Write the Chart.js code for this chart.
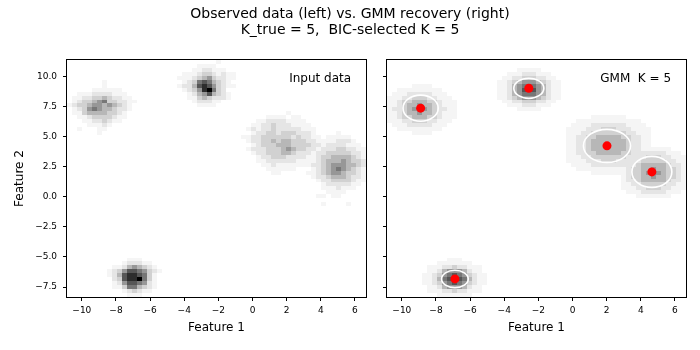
<!DOCTYPE html>
<html><head><meta charset="utf-8">
<script src="https://cdn.jsdelivr.net/npm/chart.js@4.4.1/dist/chart.umd.min.js"></script>
<style>
html,body{margin:0;padding:0;background:#fff;}
#wrap{position:relative;width:700px;height:350px;overflow:hidden;background:#fff;font-family:"DejaVu Sans",sans-serif;}
#title{position:absolute;left:0;top:6px;width:700px;text-align:center;font-size:14px;line-height:15.5px;color:#000;}
#c1{position:absolute;left:0;top:0;}
#c2{position:absolute;left:376px;top:0;}
</style></head><body>
<div id="wrap">
<canvas id="c1" width="376" height="350"></canvas>
<canvas id="c2" width="324" height="350"></canvas>
<div id="title">Observed data (left) vs. GMM recovery (right)<br>K_true = 5,&nbsp; BIC-selected K = 5</div>
</div>
<script>
// ---------- axes ----------
const X_MIN = -10.87, X_MAX = 6.65;
const Y_MIN = -8.33, Y_MAX = 11.35;
const N_BINS = 60;
const X_TICKS = [-10, -8, -6, -4, -2, 0, 2, 4, 6];
const Y_TICKS = [-7.5, -5, -2.5, 0, 2.5, 5, 7.5, 10];

// ---------- observed 2D histogram (grey level 0-9 per bin; rows top->bottom) ----------
const obsOrigins = [[0, 5], [21, 0], [35, 13], [48, 18], [8, 50]]; // [start bin column, start bin row]
const obsA = [
"000000010000000","000000010000000","000001111110000","001112222111000",
"011223343221100","012334563322110","123345545432100","012356544322100",
"011344443321000","001123333211000","000112232110000","000011121000000",
"001000110000000","000000100000000"];
const obsB = [
"000000000100000","000001111000000","000011221110000","001112332121100",
"011123453221100","001236764321000","012247875321100","001235896320000",
"000124574321000","000113432221000","000012221100000","000001111000000"];
const obsC = [
"000000000100000000","000001111011000000","000112222111100000","001122322211110000",
"012122322222111000","001223323332221000","112233333323221100","012233434433322110",
"001233344433332210","012223334543322110","001223334432221100","000122333222211000",
"000112222221110000","000011211111100000","000001111110000000","000000110000000000"];
const obsD = [
"000000100000","000011111000","000111222100","001122221110","011222332211",
"012233333221","112334444321","012344454332","122345554432","012345654321",
"112345543321","012234443221","001223333211","000122222110","000111211100",
"000011110000","001101100000","000000000000","000100001000"];
const obsE = [
"00001110000","00012221100","01124543210","12357765321","12478876310",
"02378896310","01257765210","01136643210","00012321100","00001110000"];

// ---------- GMM fit ----------
const gmmMeanX = [-8.90, -2.56, 2.02, 4.65, -6.89];
const gmmMeanY = [7.35, 9.00, 4.22, 2.06, -6.83];
const gmmSemiX = [1.03, 0.88, 1.38, 1.17, 0.78];
const gmmSemiY = [1.08, 0.84, 1.37, 1.29, 0.72];
const gmmOrigins = [[0, 6], [22, 2], [36, 14], [47, 22], [7, 50]];
const gmmA = [
"00000111100000","00111111111000","01112222211100","11122333221110","11233444332111",
"11234454432111","12234555432211","11234454432111","11233444332111","11122333221110",
"01112222211100","00111111111000","00000111100000"];
const gmmB = [
"0000111110000","0011122211100","0112233322110","1123455543211","1124566654211",
"1124577754211","1124566654211","1123455543211","0112233322110","0011122211100",
"0000111110000"];
const gmmC = [
"00000111111100000","00111111111111100","01111222222211110","11112223332221111",
"11122333333322111","11223344444332211","11223444444432211","11223444544432211",
"11223444444432211","11223344444332211","11122333333322111","11112223332221111",
"01111222222211110","00111111111111100","00000111111100000"];
const gmmD = [
"0001111111000","0111222221110","1112233322111","1122333332211","1223444443221",
"1233445443321","1233455543321","1233445443321","1223444443221","1122333332211",
"1112233322111","0111222221110","0001111111000"];
const gmmE = [
"0000011100000","0001111111000","0111223221110","0112455542110","1123567653211",
"1124678764211","1123567653211","0112455542110","0111223221110","0001111111000"];

// ---------- style ----------
const LEVEL_GRAY = [255, 245, 229, 209, 183, 151, 119, 86, 45, 0];
const FONT = "DejaVu Sans";
const DX = (X_MAX - X_MIN) / N_BINS, DY = (Y_MAX - Y_MIN) / N_BINS;

function cellsFrom(grids, origins) {
  const lv = new Map();
  grids.forEach((g, k) => {
    const [c0, r0] = origins[k];
    g.forEach((rowStr, r) => {
      for (let c = 0; c < rowStr.length; c++) {
        const v = +rowStr[c];
        if (!v) continue;
        const key = (r0 + r) * 1000 + (c0 + c);
        lv.set(key, Math.max(lv.get(key) || 0, v));
      }
    });
  });
  const pts = [];
  lv.forEach((v, key) => {
    const row = Math.floor(key / 1000), col = key % 1000;
    pts.push({x: X_MIN + (col + 0.5) * DX, y: Y_MAX - (row + 0.5) * DY, v});
  });
  return pts;
}

const heatPlugin = {
  id: 'heat',
  beforeDatasetsDraw(chart) {
    const ds = chart.data.datasets[0];
    const xs = chart.scales.x, ys = chart.scales.y, ctx = chart.ctx, a = chart.chartArea;
    ctx.save();
    ctx.beginPath(); ctx.rect(a.left, a.top, a.right - a.left, a.bottom - a.top); ctx.clip();
    for (const p of ds.data) {
      const x0 = Math.round(xs.getPixelForValue(p.x - DX / 2)), x1 = Math.round(xs.getPixelForValue(p.x + DX / 2));
      const y0 = Math.round(ys.getPixelForValue(p.y + DY / 2)), y1 = Math.round(ys.getPixelForValue(p.y - DY / 2));
      const g = LEVEL_GRAY[p.v];
      ctx.fillStyle = `rgb(${g},${g},${g})`;
      ctx.fillRect(x0, y0, x1 - x0, y1 - y0);
    }
    if (chart.options.plugins.heat && chart.options.plugins.heat.ellipses) {
      ctx.strokeStyle = '#ffffff'; ctx.lineWidth = 1.6;
      for (let i = 0; i < gmmMeanX.length; i++) {
        const cx = xs.getPixelForValue(gmmMeanX[i]), cy = ys.getPixelForValue(gmmMeanY[i]);
        const rx = xs.getPixelForValue(gmmMeanX[i] + gmmSemiX[i]) - cx;
        const ry = cy - ys.getPixelForValue(gmmMeanY[i] + gmmSemiY[i]);
        ctx.beginPath(); ctx.ellipse(cx, cy, rx, ry, 0, 0, Math.PI * 2); ctx.stroke();
      }
    }
    ctx.restore();
  },
  afterDraw(chart) {
    const ctx = chart.ctx, a = chart.chartArea;
    ctx.save();
    ctx.strokeStyle = '#000'; ctx.lineWidth = 1;
    const l = Math.round(a.left), t = Math.round(a.top), r = Math.round(a.right), b = Math.round(a.bottom);
    ctx.strokeRect(l - 0.5, t - 0.5, r - l + 1, b - t + 1);
    const txt = chart.options.plugins.heat && chart.options.plugins.heat.label;
    if (txt) {
      ctx.fillStyle = '#000'; ctx.font = `12px "${FONT}"`;
      ctx.textAlign = 'right'; ctx.textBaseline = 'top';
      ctx.fillText(txt, a.right - 0.05 * (a.right - a.left), a.top + 0.05 * (a.bottom - a.top) + 1);
    }
    ctx.restore();
  }
};

function fmtMinus(s) { return s.replace('-', '\u2212'); }

function makeOptions(isLeft, label, ellipses) {
  return {
    responsive: false, animation: false, devicePixelRatio: 1,
    layout: {padding: {left: 0, top: 60, right: isLeft ? 10 : 14, bottom: 0}},
    plugins: {legend: {display: false}, tooltip: {enabled: false}, heat: {label, ellipses}},
    events: [],
    scales: {
      x: {
        type: 'linear', min: X_MIN, max: X_MAX,
        afterBuildTicks: s => { s.ticks = X_TICKS.map(v => ({value: v})); },
        afterFit: s => { s.height = 53; },
        ticks: {autoSkip: false, maxRotation: 0, minRotation: 0, padding: 4, color: '#000',
          font: {family: FONT, size: 9}, callback: v => fmtMinus(String(v))},
        grid: {display: true, drawOnChartArea: false, drawTicks: true, tickLength: 4, color: '#000', lineWidth: 1},
        border: {display: false},
        title: {display: true, text: 'Feature 1', color: '#000', font: {family: FONT, size: 12}, padding: {top: 0, bottom: 15}}
      },
      y: {
        type: 'linear', min: Y_MIN, max: Y_MAX,
        afterBuildTicks: s => { s.ticks = Y_TICKS.map(v => ({value: v})); },
        afterFit: s => { s.width = isLeft ? 67 : 11; },
        ticks: {autoSkip: false, padding: 6, color: '#000', font: {family: FONT, size: 9},
          callback: v => isLeft ? fmtMinus(v.toFixed(1)) : ''},
        grid: {display: true, drawOnChartArea: false, drawTicks: true, tickLength: 4, color: '#000', lineWidth: 1},
        border: {display: false},
        title: {display: isLeft, text: 'Feature 2', color: '#000', font: {family: FONT, size: 12}, padding: {top: 13, bottom: 0}}
      }
    }
  };
}

new Chart(document.getElementById('c1'), {
  type: 'scatter',
  data: {datasets: [{label: 'observed', data: cellsFrom([obsA, obsB, obsC, obsD, obsE], obsOrigins), pointRadius: 0, pointHoverRadius: 0}]},
  options: makeOptions(true, 'Input data', false),
  plugins: [heatPlugin]
});

new Chart(document.getElementById('c2'), {
  type: 'scatter',
  data: {datasets: [
    {label: 'density', data: cellsFrom([gmmA, gmmB, gmmC, gmmD, gmmE], gmmOrigins), pointRadius: 0, pointHoverRadius: 0},
    {label: 'means', data: gmmMeanX.map((x, i) => ({x, y: gmmMeanY[i]})), pointRadius: 4.5, pointHoverRadius: 4.5,
     backgroundColor: '#ff0000', borderWidth: 0}
  ]},
  options: makeOptions(false, 'GMM  K = 5', true),
  plugins: [heatPlugin]
});
</script>
</body></html>
